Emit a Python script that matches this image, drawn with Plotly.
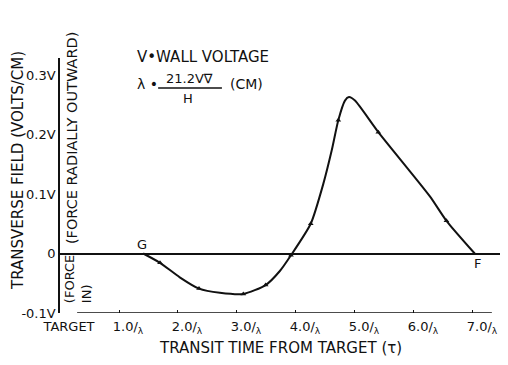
import plotly.graph_objects as go

# traced curve (transit time in units of 1/lambda, field in units of V)
curve_x = [1.41, 1.695, 2.03, 2.356, 2.71, 3.107, 3.486, 3.73, 3.915, 4.25, 4.463, 4.605,
           4.717, 4.83, 4.898, 5.0, 5.395, 6.27, 6.55, 7.03]
curve_y = [0.0, -0.0156, -0.040, -0.059, -0.066, -0.068, -0.053, -0.029, -0.003, 0.050, 0.117, 0.173,
           0.224, 0.257, 0.263, 0.257, 0.204, 0.096, 0.055, 0.0]

# measured points on the curve
point_x = [1.695, 2.356, 3.107, 3.486, 3.915, 4.25, 4.717, 5.395, 6.55]
point_y = [-0.0156, -0.059, -0.068, -0.053, -0.003, 0.050, 0.224, 0.204, 0.055]

x_tickvals = [0, 1, 2, 3, 4, 5, 6, 7]
x_ticktext = ["TARGET", "1.0/<sub>λ</sub>", "2.0/<sub>λ</sub>", "3.0/<sub>λ</sub>", "4.0/<sub>λ</sub>",
              "5.0/<sub>λ</sub>", "6.0/<sub>λ</sub>", "7.0/<sub>λ</sub>"]
y_tickvals = [-0.1, 0, 0.1, 0.2, 0.3]
y_ticktext = ["-0.1V", "0", "0.1V", "0.2V", "0.3V"]

FONT = "DejaVu Sans"
INK = "#111111"

fig = go.Figure()
fig.add_trace(go.Scatter(x=curve_x, y=curve_y, mode="lines",
                         line=dict(color=INK, width=2, shape="spline", smoothing=0.6),
                         hoverinfo="skip", showlegend=False))
fig.add_trace(go.Scatter(x=point_x, y=point_y, mode="markers",
                         marker=dict(symbol="triangle-up", size=5, color=INK),
                         showlegend=False))

# bottom axis line (drawn short of the corners, as in the original)
fig.add_shape(type="line", xref="x", yref="y", x0=0.29, x1=7.32, y0=-0.1, y1=-0.1,
              line=dict(color=INK, width=1.5))
# fraction bar of the lambda formula
fig.add_shape(type="line", xref="paper", yref="paper", x0=0.223, x1=0.368, y0=0.882, y1=0.882,
              line=dict(color=INK, width=1.5))


def note(text, x, y, size=14, data=False, angle=0, xa="center", ya="middle", align="center"):
    return dict(text=text, x=x, y=y, xref="x" if data else "paper", yref="y" if data else "paper",
                showarrow=False, textangle=angle, xanchor=xa, yanchor=ya, align=align,
                font=dict(family=FONT, size=size, color=INK))


annotations = [
    note("TRANSVERSE FIELD (VOLTS/CM)", -0.0955, 0.561, size=15, angle=-90),
    note("(FORCE RADIALLY OUTWARD)", 0.0273, 0.686, size=14.5, angle=-90),
    note("(FORCE<br>IN)", 0.041, 0.031, size=13, angle=-90, ya="bottom", align="left"),
    note("V•WALL VOLTAGE", 0.170, 1.004, size=15, xa="left"),
    note("λ •", 0.170, 0.898, size=14, xa="left"),
    note("21.2V∇", 0.295, 0.918, size=13),
    note("H", 0.291, 0.843, size=13),
    note("(CM)", 0.382, 0.898, size=14, xa="left"),
    note("G", 1.39, 0.015, size=13, data=True),
    note("F", 7.07, -0.016, size=13, data=True),
    note("TRANSIT TIME FROM TARGET (τ)", 0.5, -0.137, size=15),
]

fig.update_layout(
    width=492, height=349,
    margin=dict(l=52, r=0, t=50, b=44),
    paper_bgcolor="white", plot_bgcolor="white",
    font=dict(family=FONT, size=13, color=INK),
    annotations=annotations,
    xaxis=dict(range=[0, 7.458], showgrid=False, zeroline=False, showline=False,
               tickvals=x_tickvals, ticktext=x_ticktext, ticks="inside", ticklen=3,
               tickcolor=INK, ticklabelshift=9, ticklabelstandoff=4, tickfont=dict(size=13)),
    yaxis=dict(range=[-0.1, 0.3286], showgrid=False, zeroline=True, zerolinecolor=INK,
               zerolinewidth=1.5, showline=True, linecolor=INK, linewidth=1.5,
               tickvals=y_tickvals, ticktext=y_ticktext, ticks="", tickfont=dict(size=13)),
)

fig.write_html("out.html")
